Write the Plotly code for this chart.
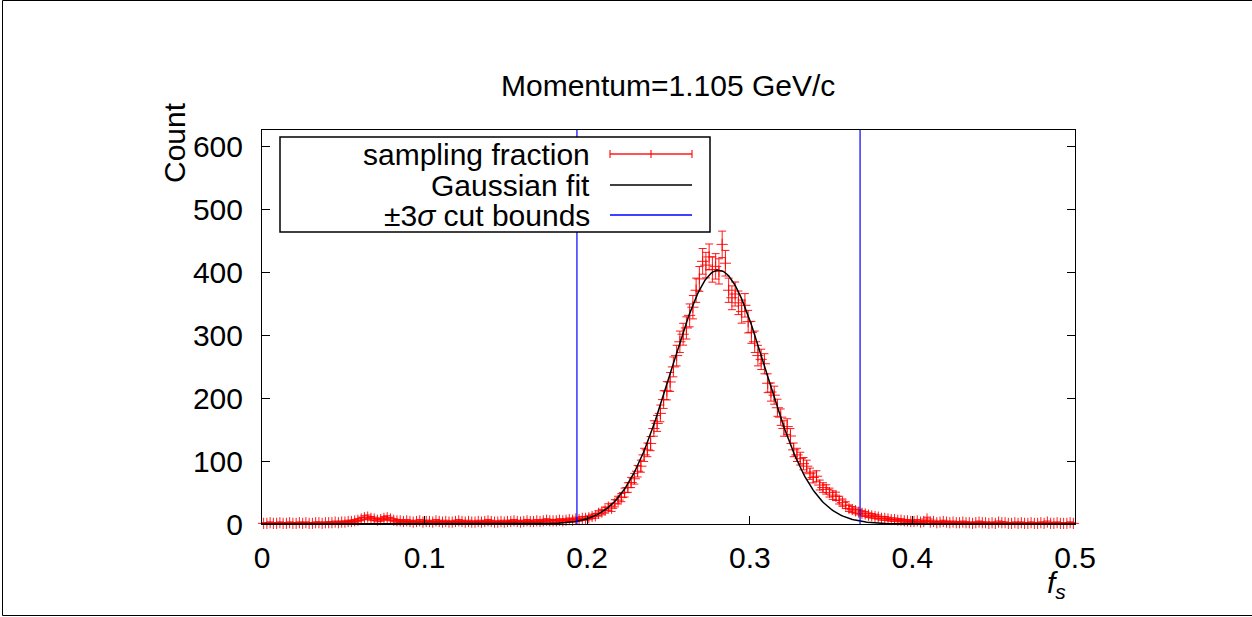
import numpy as np
import plotly.graph_objects as go

# ---------------- data ----------------
bin_width = 0.002
counts_low = [1, 1, 2, 1, 1, 2, 1, 1, 2, 1, 1, 2, 1, 2, 1, 1, 2, 2, 1, 2, 2, 2, 3, 2, 3, 3, 4]
counts_hump = [4, 5, 6, 8, 10, 11, 9, 8, 6, 7, 9, 10, 8, 6, 5, 5]
counts_mid = [4, 5, 4, 3, 4, 5, 3, 4, 4, 3, 5, 4, 3, 4, 3, 3, 4, 5, 4, 3,
              4, 3, 3, 4, 3, 4, 5, 4, 3, 3, 4, 3, 4, 4, 5, 4, 3, 4, 5, 4,
              4, 5, 4, 5, 6, 5, 5]
counts_pre = [5, 6, 5, 6, 7, 6, 8, 7, 9, 9]
counts_peak = [10, 12, 13, 17, 19, 22, 27, 25, 33, 38,
               42, 50, 58, 66, 72, 84, 92, 110, 118, 128,
               152, 160, 176, 198, 212, 226, 250, 268, 290, 302,
               312, 332, 345, 372, 390, 418, 412, 425, 405, 410,
               402, 445, 415, 372, 360, 366, 352, 338, 348, 322,
               305, 290, 268, 262, 255, 224, 210, 205, 185, 170,
               152, 155, 140, 118, 110, 104, 96, 92, 80, 74,
               76, 62, 58, 55, 50, 46, 44, 38, 34, 30,
               25, 23, 21, 19, 17, 16, 14, 13, 12, 11,
               9, 9, 8, 7, 7, 6, 6, 5, 5, 4]
counts_tail = [4, 5, 3, 4, 8, 3, 4, 2, 3, 4, 3, 2, 3, 2, 2, 3, 2, 2, 1, 2,
               3, 2, 2, 1, 2, 1, 3, 2, 2, 1, 1, 2, 1, 2, 1, 1, 2, 1, 1, 2,
               1, 3, 1, 1, 2, 1, 1, 1, 2, 1]
counts = np.array(counts_low + counts_hump + counts_mid + counts_pre + counts_peak + counts_tail, dtype=float)
bin_centers = (np.arange(len(counts)) + 0.5) * bin_width
errors = np.sqrt(counts)

# Gaussian fit parameters
fit_amp = 404.0
fit_mu = 0.28075
fit_sigma = 0.02902
cut_lo = fit_mu - 3 * fit_sigma
cut_hi = fit_mu + 3 * fit_sigma

x_range = [0, 0.5]
y_range = [0, 627]
x_ticks = [0, 0.1, 0.2, 0.3, 0.4, 0.5]
y_ticks = [0, 100, 200, 300, 400, 500, 600]

title_text = "Momentum=1.105 GeV/c"
legend_labels = ["sampling fraction", "Gaussian fit", "±3<i>σ</i> cut bounds"]

# ---------------- layout geometry ----------------
W, H = 1252, 617
L, R, T, B = 262, 1075, 130, 524
FONT = "Liberation Sans, Arial, Helvetica, sans-serif"
FS = 30


def px(xp):
    return (xp - L) / (R - L)


def py(yp):
    return (B - yp) / (B - T)


fig = go.Figure()

# data with error bars
fig.add_trace(go.Scatter(
    x=bin_centers, y=counts,
    mode="markers",
    marker=dict(symbol="cross-thin", size=8, line=dict(color="rgba(255,0,0,0.9)", width=1)),
    error_y=dict(type="data", array=errors, visible=True, color="rgba(255,0,0,0.9)",
                 thickness=1, width=4),
    cliponaxis=False,
    showlegend=False,
))

# gaussian fit curve
xf = np.linspace(x_range[0], x_range[1], 600)
yf = fit_amp * np.exp(-0.5 * ((xf - fit_mu) / fit_sigma) ** 2)
fig.add_trace(go.Scatter(x=xf, y=yf, mode="lines", line=dict(color="black", width=1.5),
                         showlegend=False))

# cut bounds
for xc in (cut_lo, cut_hi):
    fig.add_trace(go.Scatter(x=[xc, xc], y=y_range, mode="lines",
                             line=dict(color="#0000ff", width=1.2), showlegend=False))

shapes = []
annotations = []

# outer border
shapes.append(dict(type="line", xref="paper", yref="paper", x0=px(2.5), x1=px(1260),
                   y0=py(0.5), y1=py(0.5), line=dict(color="black", width=1)))
shapes.append(dict(type="line", xref="paper", yref="paper", x0=px(2.5), x1=px(2.5),
                   y0=py(0.5), y1=py(615.5), line=dict(color="black", width=1)))
shapes.append(dict(type="line", xref="paper", yref="paper", x0=px(2.5), x1=px(1260),
                   y0=py(615.5), y1=py(615.5), line=dict(color="black", width=1)))

# custom legend (gnuplot-style: text left, sample right)
shapes.append(dict(type="rect", xref="paper", yref="paper", x0=px(280), x1=px(710),
                   y0=py(232), y1=py(137), fillcolor="white",
                   line=dict(color="black", width=1.5), layer="above"))
legend_y = [154, 185, 215]
sample_colors = ["rgba(255,0,0,0.9)", "black", "#0000ff"]
for lab, ly, col in zip(legend_labels, legend_y, sample_colors):
    annotations.append(dict(text=lab, xref="paper", yref="paper", x=px(592), y=py(ly),
                            xanchor="right", yanchor="middle", showarrow=False,
                            font=dict(family=FONT, size=FS, color="black")))
    shapes.append(dict(type="line", xref="paper", yref="paper", x0=px(610), x1=px(692),
                       y0=py(ly), y1=py(ly), line=dict(color=col, width=1.3), layer="above"))
# caps and point on red sample
for cx in (610, 651, 692):
    shapes.append(dict(type="line", xref="paper", yref="paper", x0=px(cx), x1=px(cx),
                       y0=py(legend_y[0] + 4), y1=py(legend_y[0] - 4),
                       line=dict(color=sample_colors[0], width=1.2), layer="above"))

# title
annotations.append(dict(text=title_text, xref="paper", yref="paper", x=px(668), y=py(85),
                        xanchor="center", yanchor="middle", showarrow=False,
                        font=dict(family=FONT, size=FS, color="black")))
# y label
annotations.append(dict(text="Count", xref="paper", yref="paper", x=px(174), y=py(143),
                        xanchor="center", yanchor="middle", textangle=-90, showarrow=False,
                        font=dict(family=FONT, size=FS, color="black")))
# x label
annotations.append(dict(text="<i>f<sub>s</sub></i>", xref="paper", yref="paper", x=px(1056),
                        y=py(584), xanchor="center", yanchor="middle", showarrow=False,
                        font=dict(family=FONT, size=FS, color="black")))

fig.update_layout(
    width=W, height=H,
    margin=dict(l=L, r=W - R, t=T, b=H - B, pad=0),
    paper_bgcolor="white", plot_bgcolor="white",
    showlegend=False,
    shapes=shapes, annotations=annotations,
    font=dict(family=FONT, size=FS, color="black"),
)
fig.update_xaxes(range=x_range, tickvals=x_ticks, ticktext=[f"{v:g}" for v in x_ticks],
                 ticks="inside", ticklen=8, tickwidth=1, tickcolor="black",
                 showline=True, linecolor="black", linewidth=1, mirror=True,
                 showgrid=False, zeroline=False, ticklabelstandoff=7,
                 tickfont=dict(family=FONT, size=FS, color="black"))
fig.update_yaxes(range=y_range, tickvals=y_ticks, ticktext=[str(v) for v in y_ticks],
                 ticks="inside", ticklen=8, tickwidth=1, tickcolor="black",
                 showline=True, linecolor="black", linewidth=1, mirror="ticks",
                 showgrid=False, zeroline=False, ticklabelstandoff=12,
                 tickfont=dict(family=FONT, size=FS, color="black"))

fig.write_html("out.html")
